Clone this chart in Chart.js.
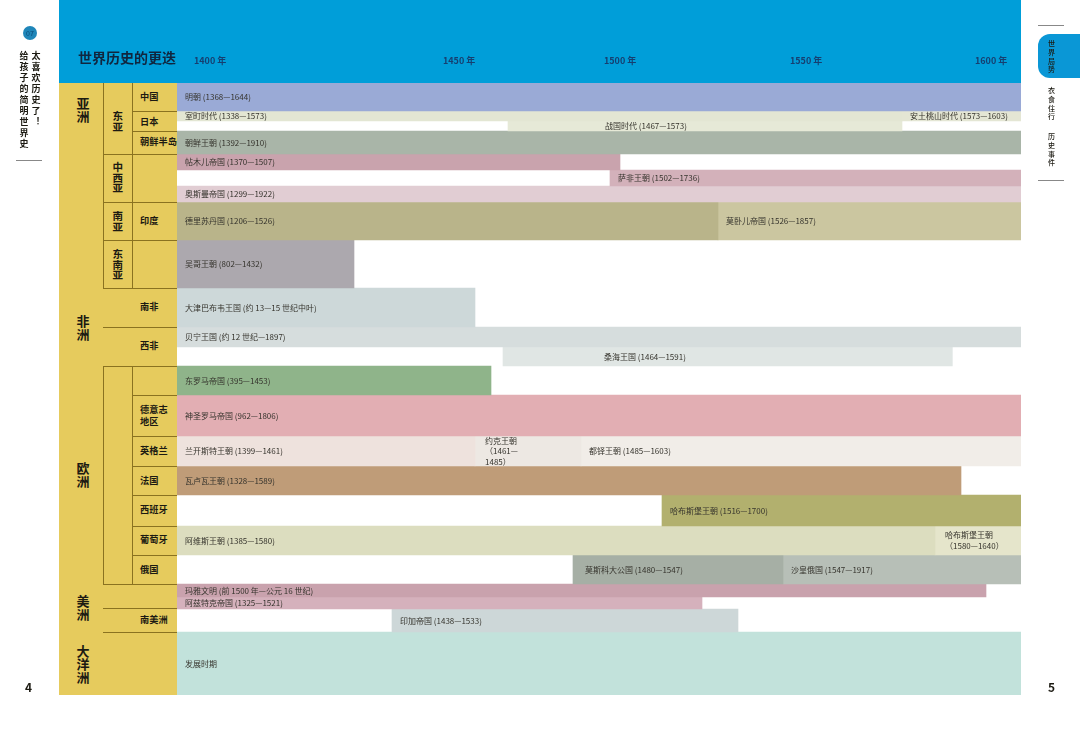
<!DOCTYPE html>
<html>
  <head>
    <meta charset="utf-8">
    <title>世界历史的更迭</title>
    <script src="https://cdn.jsdelivr.net/npm/chart.js"></script>
    <style>
      html, body { margin: 0; padding: 0; background: #fff; }
      body { font-family: "Noto Sans CJK SC", sans-serif; color: #1c1a12; }
      #page { position: relative; width: 1080px; height: 730px; overflow: hidden; }
      #page div { position: absolute; }
      canvas { position: absolute; left: 0; top: 0; }
      .v { writing-mode: vertical-rl; text-orientation: upright; font-weight: 700; white-space: nowrap; line-height: 1; transform: translateX(-50%); }
      .h { font-size: 9.2px; font-weight: 700; letter-spacing: 0.1px; line-height: 12px; white-space: nowrap; }
    </style>
  </head>
  <body>
    <div id="page">
      <div style="left:59px;top:0;width:962px;height:83px;background:#009ed9"></div>
      <div style="left:59px;top:83px;width:118px;height:612px;background:#e6cb5d"></div>
      <div id="gutter"></div>
      <canvas id="chart" width="1080" height="730"></canvas>
      <div style="left:78px;top:47px;font-size:14px;font-weight:700;line-height:20px;color:#10263f;white-space:nowrap">世界历史的更迭</div>

      <div style="left:23px;top:26px;width:14px;height:14px;border-radius:50%;background:#1f86b9;color:#0a4a78;font-size:7px;line-height:14px;text-align:center">07</div>
      <div class="v" style="left:36px;top:51px;font-size:9px;letter-spacing:2px">太喜欢历史了！</div>
      <div class="v" style="left:24px;top:51px;font-size:9px;letter-spacing:2px">给孩子的简明世界史</div>
      <div style="left:16px;top:160px;width:26px;height:1px;background:#888"></div>
      <div style="left:25px;top:679px;font-size:12px;font-weight:700;line-height:16px">4</div>
      <div style="left:1048px;top:679px;font-size:12px;font-weight:700;line-height:16px">5</div>

      <div style="left:1038px;top:25px;width:26px;height:1px;background:#888"></div>
      <div style="left:1038px;top:34px;width:42px;height:44px;background:#0a97d6;border-radius:12px 0 0 12px"></div>
      <div class="v" style="left:1051px;top:40px;font-size:7px;letter-spacing:1.7px;font-weight:500">世界局势</div>
      <div class="v" style="left:1051px;top:87px;font-size:7px;letter-spacing:1.7px;font-weight:500">衣食住行</div>
      <div class="v" style="left:1051px;top:133px;font-size:7px;letter-spacing:1.7px;font-weight:500">历史事件</div>
      <div style="left:1038px;top:180px;width:26px;height:1px;background:#888"></div>
    </div>

    <script>
      // Years on the axis
      const tickYears = [1400, 1450, 1500, 1550, 1600];

      // Row groups in the left column
      const continents = ['亚洲', '非洲', '欧洲', '美洲', '大洋洲'];
      const regions = ['东亚', '中西亚', '南亚', '东南亚'];
      const countries = ['中国', '日本', '朝鲜半岛', '印度', '南非', '西非', '德意志\n地区', '英格兰', '法国', '西班牙', '葡萄牙', '俄国', '南美洲'];

      // One entry per period. Lane is the row it sits in, counted from the top
      const periodNames = [
        '明朝 (1368—1644)', '室町时代 (1338—1573)', '安土桃山时代 (1573—1603)', '战国时代 (1467—1573)', '朝鲜王朝 (1392—1910)',
        '帖木儿帝国 (1370—1507)', '萨非王朝 (1502—1736)', '奥斯曼帝国 (1299—1922)', '德里苏丹国 (1206—1526)', '莫卧儿帝国 (1526—1857)',
        '吴哥王朝 (802—1432)', '大津巴布韦王国 (约 13—15 世纪中叶)', '贝宁王国 (约 12 世纪—1897)', '桑海王国 (1464—1591)',
        '东罗马帝国 (395—1453)', '神圣罗马帝国 (962—1806)', '兰开斯特王朝 (1399—1461)', '约克王朝\n（1461—\n1485）', '都铎王朝 (1485—1603)',
        '瓦卢瓦王朝 (1328—1589)', '哈布斯堡王朝 (1516—1700)', '阿维斯王朝 (1385—1580)', '哈布斯堡王朝\n（1580—1640）',
        '莫斯科大公国 (1480—1547)', '沙皇俄国 (1547—1917)', '玛雅文明 (前 1500 年—公元 16 世纪)', '阿兹特克帝国 (1325—1521)',
        '印加帝国 (1438—1533)', '发展时期'
      ];
      // Lancaster/York split and the end of Songhai are read off the picture, not the printed years
      const periodStart = [1368, 1338, 1573, 1467, 1392, 1370, 1502, 1299, 1206, 1526, 802, 1200, 1100, 1464, 395, 962, 1399, 1452, 1485, 1328, 1516, 1385, 1580, 1480, 1547, -1500, 1325, 1438, 1300];
      const periodEnd = [1644, 1573, 1603, 1573, 1910, 1507, 1736, 1922, 1526, 1857, 1432, 1452, 1897, 1586, 1453, 1806, 1452, 1485, 1603, 1589, 1700, 1580, 1640, 1547, 1917, 1602, 1521, 1533, 1700];
      const periodLane = [0, 1, 1, 2, 3, 4, 5, 6, 7, 7, 8, 9, 10, 11, 12, 13, 14, 14, 14, 15, 16, 17, 17, 18, 18, 19, 20, 21, 22];

      const periodColors = [
        '#9aaad6', '#e3e6d3', '#e4e6d4', '#e6e9d7', '#a9b5a8', '#c9a3ad', '#d3b1ba', '#e1cdd3', '#b9b48a', '#cbc6a0',
        '#aca8ae', '#cdd8d9', '#d6dddd', '#e0e6e4', '#8fb48a', '#e2aeb3', '#eee2dd', '#ede8e3', '#f1ede8',
        '#bf9c78', '#b2b06e', '#dcddbf', '#e5e5cb', '#a6afa5', '#b7bfb7', '#c9a2ad', '#d5b1bc', '#cdd7d8', '#c2e2db'
      ];

      // The printed axis is not even, so year -> pixel goes through these stops
      const xStops = [[1399, 177], [1400, 194], [1432, 354], [1438, 392], [1450, 443], [1452, 475], [1453, 491], [1464, 503], [1467, 508], [1480, 573], [1485, 581], [1500, 604], [1502, 610], [1507, 620], [1516, 662], [1521, 702], [1526, 718], [1533, 738], [1547, 783], [1550, 790], [1573, 902], [1580, 935], [1589, 961], [1600, 975], [1602, 986], [1603, 1021]];
      // Top edge of each lane, plus the bottom of the last one
      const laneEdges = [83, 111, 121, 131, 154, 170, 186, 202, 240, 288, 327, 347, 366, 395, 436, 466, 495, 526, 555, 584, 597, 609, 632, 695];
      const yStops = laneEdges.map((px, i) => [i, px]);

      // Label offset from the bar start where it is not the usual 8px
      const labelOffsets = { 3: 97, 13: 101, 17: 10, 18: 8, 22: 10, 23: 12 };

      class StopScale extends Chart.LinearScale {
        static id = 'stops';
        static defaults = {};
        getPixelForValue(value) {
          const stops = this.options.stops;
          if (value <= stops[0][0]) return stops[0][1];
          for (let i = 1; i < stops.length; i++) {
            if (value <= stops[i][0]) {
              const [v0, p0] = stops[i - 1];
              const [v1, p1] = stops[i];
              return p0 + (p1 - p0) * (value - v0) / (v1 - v0);
            }
          }
          return stops[stops.length - 1][1];
        }
      }
      Chart.register(StopScale);

      // Period names on top of the bars
      const barLabels = {
        id: 'barLabels',
        afterDatasetsDraw(chart) {
          const ctx = chart.ctx;
          ctx.save();
          ctx.font = '8px "Noto Sans CJK SC"';
          ctx.fillStyle = '#35332c';
          ctx.textBaseline = 'middle';
          chart.data.datasets.forEach((dataset, i) => {
            const bar = chart.getDatasetMeta(i).data[0];
            const left = Math.min(bar.base, bar.x);
            const x = left + (labelOffsets[i] ?? 8);
            const lines = periodNames[i].split('\n');
            lines.forEach((line, n) => {
              ctx.fillText(line, x, bar.y + (n - (lines.length - 1) / 2) * 10.5);
            });
          });
          ctx.restore();
        }
      };

      const chart = new Chart(document.getElementById('chart').getContext('2d'), {
        type: 'bar',
        data: {
          datasets: periodNames.map((name, i) => ({
            label: name,
            data: [{ x: [periodStart[i], periodEnd[i]], y: periodLane[i] + 0.5 }],
            backgroundColor: periodColors[i],
            barThickness: laneEdges[periodLane[i] + 1] - laneEdges[periodLane[i]],
            stack: 'all'
          }))
        },
        plugins: [barLabels],
        options: {
          indexAxis: 'y',
          responsive: false,
          animation: false,
          layout: { padding: { left: 177, right: 59, top: 0, bottom: 35 } },
          plugins: { legend: { display: false }, tooltip: { enabled: false } },
          scales: {
            x: {
              type: 'stops',
              stops: xStops,
              position: 'top',
              stacked: false,
              min: 1399,
              max: 1603,
              afterBuildTicks: scale => { scale.ticks = tickYears.map(value => ({ value })); },
              afterFit: scale => {
                scale.height = 83;
                scale.paddingLeft = 0;
                scale.paddingRight = 0;
              },
              grid: { display: false },
              border: { display: false },
              ticks: {
                align: 'start',
                autoSkip: false,
                maxRotation: 0,
                padding: 9,
                color: '#163f70',
                font: { family: '"Noto Sans CJK SC"', size: 9, weight: 700 },
                callback: value => value + ' 年'
              }
            },
            y: {
              type: 'stops',
              stops: yStops,
              display: false,
              min: 0,
              max: laneEdges.length - 1
            }
          }
        }
      });

      // Left column: group names and divider lines
      const gutter = document.getElementById('gutter');
      const lineColor = '#8a7220';

      function addLine(x, y, w, h) {
        const el = document.createElement('div');
        el.style.cssText = `left:${x}px;top:${y}px;width:${w}px;height:${h}px;background:${lineColor}`;
        gutter.appendChild(el);
      }
      function addVertical(text, cx, top, size) {
        const el = document.createElement('div');
        el.className = 'v';
        el.textContent = text;
        el.style.cssText = `left:${cx}px;top:${top}px;font-size:${size}px`;
        gutter.appendChild(el);
      }
      function addCountry(text, top) {
        const el = document.createElement('div');
        el.className = 'h';
        el.innerHTML = text.replace('\n', '<br>');
        el.style.cssText = `left:140px;top:${top}px`;
        gutter.appendChild(el);
      }

      const continentTops = [97, 315, 462, 595, 645];
      const regionTops = [111, 162, 211, 249];
      const countryTops = [90, 115, 135, 214, 300, 339, 403, 444, 474, 503, 533, 563, 613];
      continents.forEach((name, i) => addVertical(name, 83, continentTops[i], 13));
      regions.forEach((name, i) => addVertical(name, 117, regionTops[i], 10.5));
      countries.forEach((name, i) => addCountry(name, countryTops[i]));

      [111, 131].forEach(y => addLine(132, y, 45, 1));
      [154, 202, 240, 288, 327, 366, 584, 608, 632].forEach(y => addLine(103, y, 74, 1));
      [395, 436, 466, 495, 526, 555].forEach(y => addLine(132, y, 45, 1));
      [[83, 205], [366, 218]].forEach(([y, h]) => { addLine(103, y, 1, h); addLine(132, y, 1, h); });
    </script>
  </body>
</html>
